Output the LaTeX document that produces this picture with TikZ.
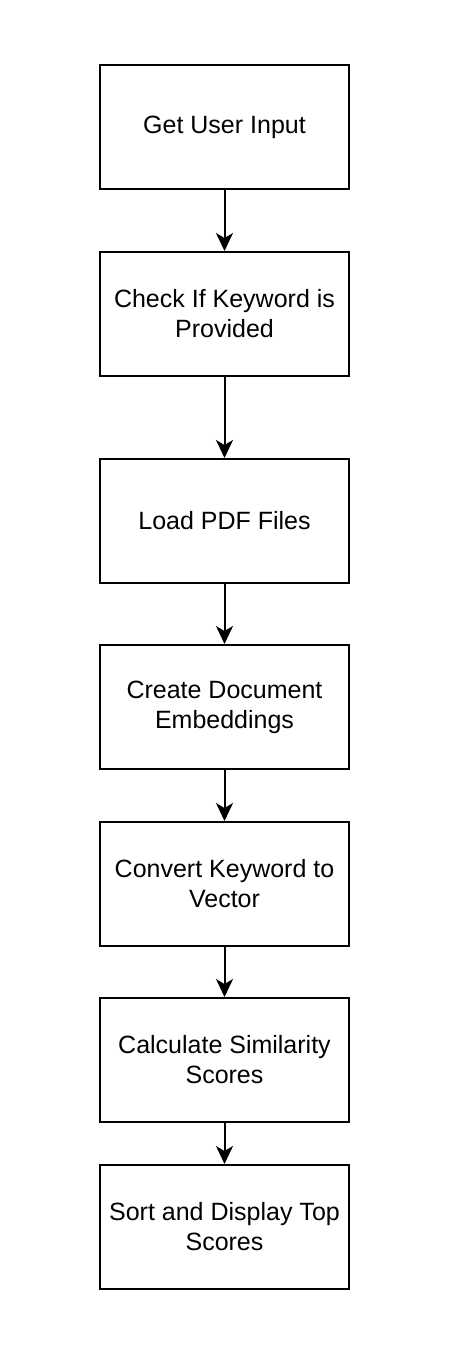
\documentclass[tikz,border=0pt]{standalone}
\usepackage{fontspec}
\setmainfont{Liberation Sans}
\usetikzlibrary{arrows.meta}
\begin{document}
\begin{tikzpicture}[x=1pt,y=-1pt,
  stepbox/.style={draw=black, line width=2pt, minimum width=249pt, minimum height=124pt, inner sep=0pt,
    align=center, font=\fontsize{25pt}{30pt}\selectfont},
  flow/.style={line width=2pt, -{Stealth[length=18pt,width=17pt,inset=5pt]}}]
\useasboundingbox (0,0) rectangle (454,1358);
\fill[white] (0,0) rectangle (454,1358);
\node[stepbox] (n1) at (224.5,127) {Get User Input};
\node[stepbox] (n2) at (224.5,314) {Check If Keyword is\\Provided};
\node[stepbox] (n3) at (224.5,521) {Load PDF Files};
\node[stepbox] (n4) at (224.5,707) {Create Document\\Embeddings};
\node[stepbox] (n5) at (224.5,884) {Convert Keyword to\\Vector};
\node[stepbox] (n6) at (224.5,1060) {Calculate Similarity\\Scores};
\node[stepbox] (n7) at (224.5,1227) {Sort and Display Top\\Scores};
\draw[flow] (n1) -- (n2);
\draw[flow] (n2) -- (n3);
\draw[flow] (n3) -- (n4);
\draw[flow] (n4) -- (n5);
\draw[flow] (n5) -- (n6);
\draw[flow] (n6) -- (n7);
\end{tikzpicture}
\end{document}
